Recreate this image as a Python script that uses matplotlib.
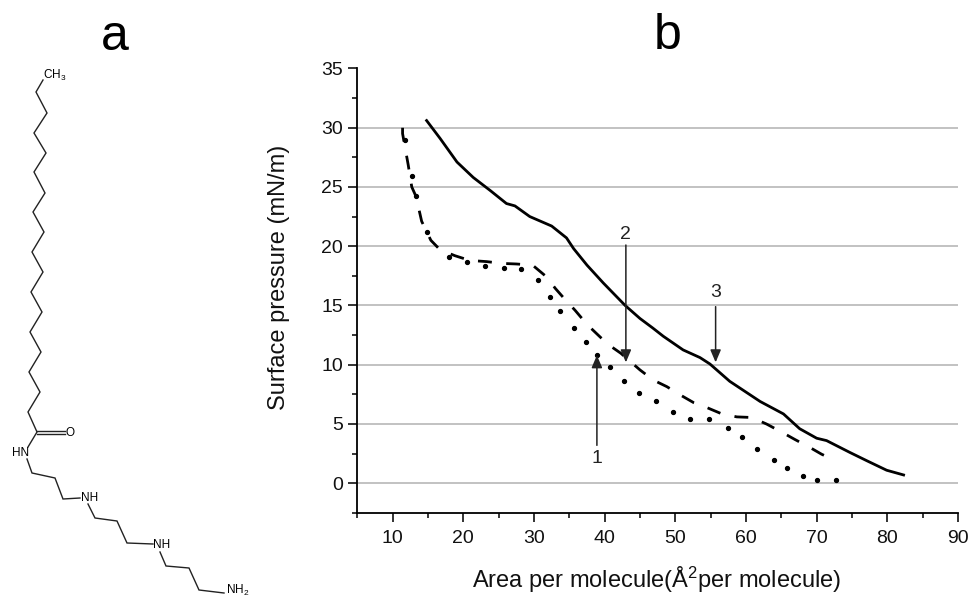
import matplotlib
matplotlib.use("Agg")
import matplotlib.pyplot as plt
from matplotlib.ticker import MultipleLocator

plt.rcParams["font.family"] = ["Liberation Sans", "DejaVu Sans"]
plt.rcParams["mathtext.fontset"] = "custom"
plt.rcParams["mathtext.rm"] = "Liberation Sans"
plt.rcParams["mathtext.default"] = "rm"

# isotherm 3, solid
area_3 = [14.8, 16.7, 19.1, 21.4, 23.8, 26.1, 27.3, 29.4, 32.5, 34.6, 35.6, 37.5, 39.8, 42.9, 45.0,
          46.8, 48.3, 51.1, 53.5, 54.9, 57.7, 62.0, 65.3, 67.6, 70.0, 71.4, 74.7, 77.1, 79.9, 82.3]
pressure_3 = [30.6, 29.1, 27.1, 25.8, 24.7, 23.6, 23.4, 22.5, 21.7, 20.7, 19.8, 18.4, 16.9, 15.0, 13.9,
              13.1, 12.4, 11.25, 10.6, 10.06, 8.6, 6.9, 5.85, 4.6, 3.8, 3.6, 2.6, 1.9, 1.1, 0.7]

# isotherm 2, dashed
area_2 = [11.4, 11.4, 12.2, 12.7, 13.3, 14.1, 15.4, 16.7, 18.8, 20.9, 23.3, 25.4, 27.5, 29.8, 31.8,
          33.0, 34.4, 35.8, 37.5, 38.9, 40.4, 42.3, 45.0, 46.9, 48.8, 50.7, 52.6, 54.4, 56.6, 58.7,
          60.8, 62.9, 65.1, 66.9, 69.1, 70.7, 72.7]
pressure_2 = [30.6, 29.5, 26.85, 25.0, 24.2, 22.1, 20.5, 19.7, 19.2, 18.8, 18.7, 18.55, 18.5, 18.4, 17.4,
              16.45, 15.5, 14.6, 13.4, 12.6, 11.75, 10.96, 9.56, 8.7, 8.15, 7.45, 6.8, 6.4, 5.85, 5.6,
              5.55, 5.0, 4.3, 3.7, 3.0, 2.45, 1.9]

# isotherm 1, only dots
area_1 = [11.7, 12.7, 13.3, 14.8, 17.9, 20.5, 23.0, 25.7, 28.2, 30.6, 32.2, 33.7, 35.6, 37.3, 38.9,
          40.8, 42.7, 44.9, 47.3, 49.6, 52.1, 54.8, 57.4, 59.5, 61.6, 64.0, 65.8, 68.0, 70.1, 72.8]
pressure_1 = [29.0, 25.9, 24.2, 21.2, 19.1, 18.65, 18.3, 18.2, 18.1, 17.15, 15.7, 14.5, 13.1, 11.9, 10.8,
              9.8, 8.65, 7.65, 6.9, 6.05, 5.4, 5.45, 4.7, 3.9, 2.87, 1.97, 1.3, 0.64, 0.27, 0.27]

grid_levels = [0, 5, 10, 15, 20, 25, 30]

# curve labels: (label, x, text y, arrow tail y, arrow tip y)
curve_labels = [("1", 38.9, 2.1, 3.2, 10.8),
                ("2", 43.0, 21.0, 20.1, 10.2),
                ("3", 55.7, 16.1, 14.9, 10.2)]

# panel a drawing, image pixels
chain_x = [43, 36, 47, 34, 46, 34, 45, 33, 44, 32, 43, 31, 42, 30, 41, 29, 40, 28, 37, 28]
chain_y = [80, 92, 113, 133, 153, 172, 193, 212, 232, 252, 272, 292, 312, 332, 352, 372, 392, 412, 432, 447]
tail_1_x = [27, 32, 55, 63, 80]
tail_1_y = [459, 473, 478, 499, 498]
tail_2_x = [88, 95, 117, 127, 153]
tail_2_y = [504, 518, 521, 543, 544]
tail_3_x = [160, 166, 189, 199, 224]
tail_3_y = [552, 566, 568, 590, 593]
carbonyl_x = [37, 65]
carbonyl_y_1 = [431, 431]
carbonyl_y_2 = [433.5, 433.5]
atom_labels = [("CH$_3$", 55, 75.5), ("O", 70, 433), ("HN", 21, 453), ("NH", 90, 498),
               ("NH", 162, 545), ("NH$_2$", 238, 590)]

fig = plt.figure(figsize=(9.68, 5.98), dpi=100)

# panel a
ax_a = fig.add_axes([0, 0, 1, 1])
ax_a.set_xlim(0, 968)
ax_a.set_ylim(598, 0)
ax_a.axis("off")
for xs, ys in [(chain_x, chain_y), (tail_1_x, tail_1_y), (tail_2_x, tail_2_y), (tail_3_x, tail_3_y),
               (carbonyl_x, carbonyl_y_1), (carbonyl_x, carbonyl_y_2)]:
    ax_a.plot(xs, ys, color="#222222", lw=1.0, solid_joinstyle="miter")
for txt, x, y in atom_labels:
    ax_a.text(x, y, txt, fontsize=8.5, ha="center", va="center", color="black")
ax_a.text(115, 37, "a", fontsize=36, ha="center", va="center", color="black")
ax_a.text(668, 36, "b", fontsize=36, ha="center", va="center", color="black")

# panel b
ax = fig.add_axes([357.35 / 968, 1 - 512.9 / 598, 600.65 / 968, 444.5 / 598])
ax.patch.set_alpha(0)
ax.set_xlim(5, 90)
ax.set_ylim(-2.5, 35)

for level in grid_levels:
    ax.axhline(level, color="#b2b2b2", lw=1.1, zorder=1)

ax.plot(area_3, pressure_3, color="black", lw=2.0, zorder=3)
ax.plot(area_2, pressure_2, color="black", lw=2.0, linestyle=(7.6, (5.0, 5.2)), zorder=3)
ax.plot(area_1, pressure_1, "o", color="black", ms=2.8, zorder=3)

for txt, x, text_y, tail_y, tip_y in curve_labels:
    ax.annotate("", xy=(x, tip_y), xytext=(x, tail_y),
                arrowprops=dict(arrowstyle="-|>,head_length=0.75,head_width=0.32", color="#222222",
                                lw=1.1, shrinkA=0, shrinkB=0), zorder=4)
    ax.text(x, text_y, txt, fontsize=14, ha="center", va="center", color="#222222")

ax.spines["top"].set_visible(False)
ax.spines["right"].set_visible(False)
ax.spines["left"].set_linewidth(1.3)
ax.spines["bottom"].set_linewidth(1.3)

ax.xaxis.set_major_locator(MultipleLocator(10))
ax.xaxis.set_minor_locator(MultipleLocator(5))
ax.yaxis.set_major_locator(MultipleLocator(5))
ax.yaxis.set_minor_locator(MultipleLocator(2.5))
ax.tick_params(which="major", length=6.5, width=1.2, labelsize=14, colors="#111111")
ax.tick_params(axis="x", which="major", pad=6)
ax.tick_params(axis="y", which="major", pad=4)
ax.tick_params(which="minor", length=3.5, width=1.1)

ax.set_xticks(range(10, 91, 10))
ax.set_xlabel("Area per molecule(Å$^2$per molecule)", fontsize=17, color="#111111")
ax.set_ylabel("Surface pressure (mN/m)", fontsize=17, color="#111111")
ax.xaxis.set_label_coords(0.499, -0.117)
ax.yaxis.set_label_coords(-0.1125, 0.53)

fig.savefig("out.png", dpi=100)
